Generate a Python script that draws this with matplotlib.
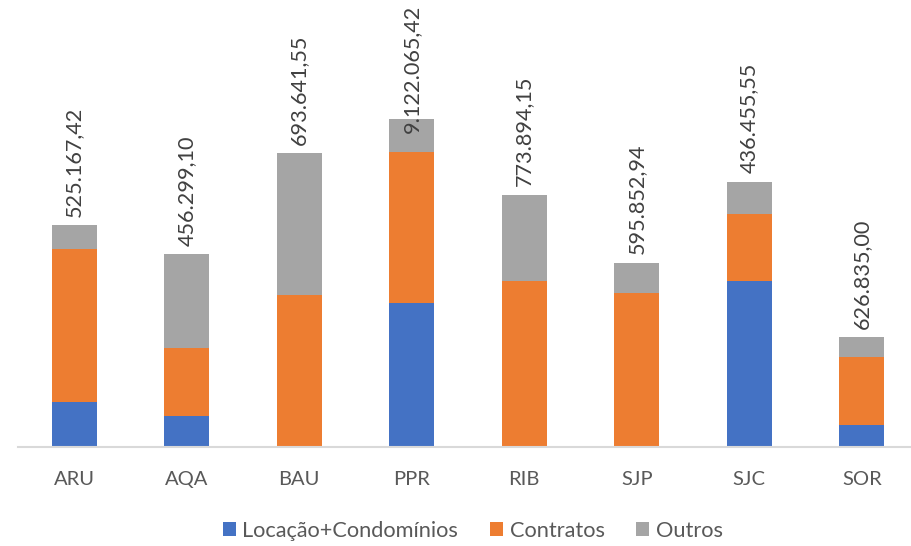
import matplotlib
matplotlib.use("Agg")
import matplotlib.pyplot as plt
import numpy as np
from matplotlib.patches import Patch

categories = ["ARU", "AQA", "BAU", "PPR", "RIB", "SJP", "SJC", "SOR"]
locacao = [45.3, 31.3, 0.0, 143.7, 0.0, 0.0, 166.0, 22.0]
contratos = [153.0, 68.0, 152.0, 151.6, 166.3, 153.7, 67.3, 68.3]
outros = [23.7, 93.7, 141.7, 32.4, 86.0, 30.6, 32.0, 19.4]
labels = ["525.167,42", "456.299,10", "693.641,55", "9.122.065,42",
          "773.894,15", "595.852,94", "436.455,55", "626.835,00"]
series_names = ["Locação+Condomínios", "Contratos", "Outros"]
colors = ["#4472C4", "#ED7D31", "#A5A5A5"]

plt.rcParams['font.family'] = ['Lato', 'DejaVu Sans']
W, H = 911, 546
fig = plt.figure(figsize=(W / 100, H / 100), dpi=100)
ax = fig.add_axes([18 / W, (H - 447) / H, (W - 18) / W, 447 / H])

x = np.arange(len(categories))
bw = 0.4
loc = np.array(locacao)
con = np.array(contratos)
out = np.array(outros)
ax.bar(x, loc, bw, color=colors[0], zorder=2)
ax.bar(x, con, bw, bottom=loc, color=colors[1], zorder=2)
ax.bar(x, out, bw, bottom=loc + con, color=colors[2], zorder=2)
totals = loc + con + out

ax.set_xlim(-0.5, -0.5 + (W - 18) / 112.5)
ax.set_ylim(0, 447)
for s in ["top", "right", "left"]:
    ax.spines[s].set_visible(False)
ax.spines["bottom"].set_color("#D9D9D9")
ax.spines["bottom"].set_linewidth(1.5)
ax.set_yticks([])
ax.set_xticks(x)
ax.set_xticklabels(categories, fontsize=14.5, color="#595959")
ax.tick_params(axis="x", length=0, pad=17)

texts = []
for i, (t, lab) in enumerate(zip(totals, labels)):
    txt = ax.annotate(lab, (i, t), xytext=(0, 6), textcoords="offset points",
                      rotation=90, ha="center", va="bottom", fontsize=15.6,
                      color="#404040", annotation_clip=False)
    texts.append(txt)

fig.canvas.draw()
r = fig.canvas.get_renderer()
for txt in texts:
    bb = txt.get_window_extent(r)
    limit = H - 5
    if bb.y1 > limit:
        shift = (bb.y1 - limit) * 72 / 100
        ox, oy = txt.xyann
        txt.xyann = (ox, oy - shift)

handles = [Patch(facecolor=c, edgecolor="none") for c in colors]
fig.legend(handles, series_names, loc="center", bbox_to_anchor=(0.519, 0.0275),
           ncol=3, frameon=False, fontsize=15.7, handlelength=0.6,
           handleheight=0.6, handletextpad=0.3, columnspacing=1.45,
           labelcolor="#595959")

fig.savefig("out.png", dpi=100)
